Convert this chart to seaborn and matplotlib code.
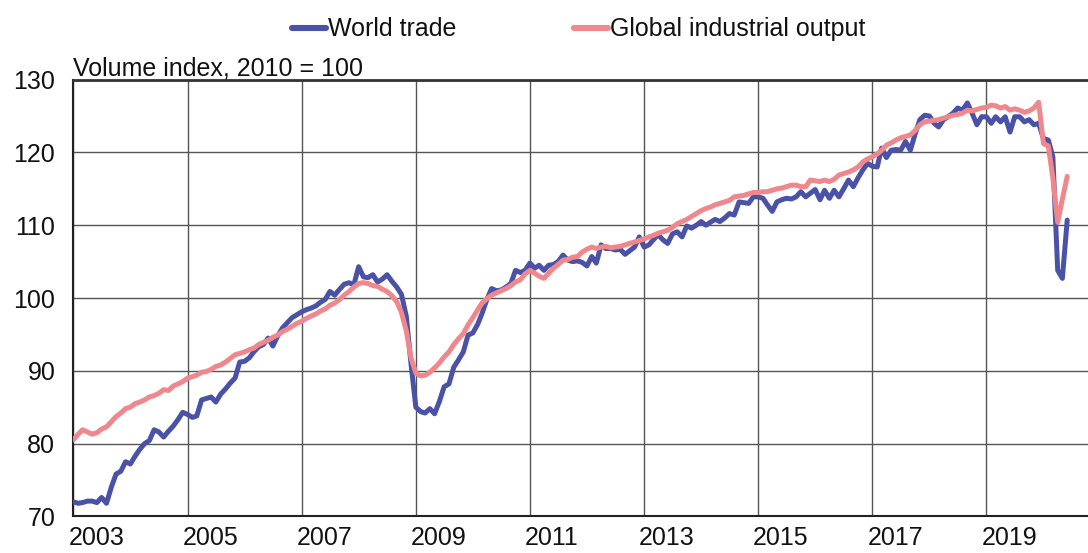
import matplotlib
matplotlib.use("Agg")
import matplotlib.pyplot as plt
import matplotlib.transforms as mtransforms
from matplotlib.lines import Line2D
import seaborn as sns
import pandas as pd

# ---- data (monthly, Jan 2003 - Jun 2020), volume index 2010 = 100 ----
start_month = "2003-01-01"
world_trade = [
    72.0, 71.8, 71.9, 72.1, 72.1, 71.9, 72.6, 71.8, 74.0, 75.8, 76.2, 77.5,   # 2003
    77.2, 78.3, 79.2, 80.0, 80.4, 81.9, 81.6, 80.9, 81.7, 82.4, 83.3, 84.3,   # 2004
    84.0, 83.6, 83.8, 86.0, 86.2, 86.4, 85.7, 86.8, 87.5, 88.3, 89.0, 91.2,   # 2005
    91.3, 91.8, 92.6, 93.3, 93.6, 94.5, 93.4, 94.8, 95.9, 96.6, 97.3, 97.7,   # 2006
    98.1, 98.4, 98.6, 98.9, 99.4, 99.8, 100.9, 100.4, 101.2, 101.9, 102.1, 101.8,  # 2007
    104.3, 102.9, 102.8, 103.2, 102.2, 102.6, 103.2, 102.3, 101.5, 100.5, 97.5, 91.0,  # 2008
    85.0, 84.4, 84.2, 84.8, 84.1, 85.8, 87.8, 88.2, 90.5, 91.5, 92.6, 94.9,   # 2009
    95.2, 96.4, 97.9, 99.8, 101.3, 101.0, 101.1, 101.5, 102.0, 103.8, 103.5, 103.8,  # 2010
    104.8, 104.1, 104.5, 103.8, 104.5, 104.6, 105.0, 105.9, 105.2, 105.0, 105.1, 104.9,  # 2011
    104.4, 105.7, 104.8, 107.3, 106.8, 106.8, 106.6, 106.7, 106.0, 106.5, 107.0, 108.4,  # 2012
    107.0, 107.3, 108.0, 108.7, 108.0, 107.5, 108.8, 109.1, 108.4, 109.9, 109.6, 110.0,  # 2013
    110.5, 110.0, 110.4, 110.8, 110.5, 111.0, 111.6, 111.4, 113.2, 113.1, 113.0, 113.9,  # 2014
    113.9, 113.7, 112.8, 111.9, 113.2, 113.5, 113.7, 113.6, 113.9, 114.6, 113.9, 114.4,  # 2015
    114.9, 113.5, 114.8, 113.7, 114.8, 113.9, 115.0, 116.2, 115.3, 116.5, 117.6, 118.5,  # 2016
    118.1, 118.0, 120.6, 119.3, 120.3, 120.4, 120.3, 121.5, 120.3, 122.5, 124.5, 125.1,  # 2017
    125.0, 124.0, 123.5, 124.5, 124.9, 125.4, 126.1, 125.8, 126.8, 125.4, 123.8, 124.9,  # 2018
    124.9, 124.0, 124.9, 124.2, 124.9, 122.8, 124.9, 124.9, 124.2, 124.5, 123.8, 124.0,  # 2019
    121.9, 121.7, 119.4, 103.8, 102.7, 110.7,                                      # 2020
]
industrial_output = [
    80.5, 81.3, 81.9, 81.6, 81.3, 81.5, 82.0, 82.3, 83.0, 83.7, 84.2, 84.8,   # 2003
    85.0, 85.5, 85.7, 86.0, 86.4, 86.6, 86.9, 87.4, 87.3, 87.9, 88.2, 88.5,   # 2004
    89.0, 89.2, 89.4, 89.8, 89.9, 90.2, 90.6, 90.8, 91.2, 91.7, 92.2, 92.4,   # 2005
    92.6, 92.9, 93.1, 93.6, 93.9, 94.2, 94.6, 94.9, 95.4, 95.7, 96.1, 96.5,   # 2006
    96.8, 97.2, 97.5, 97.8, 98.2, 98.5, 99.0, 99.3, 99.8, 100.4, 100.9, 101.5,  # 2007
    102.0, 102.1, 102.0, 101.7, 101.6, 101.2, 100.9, 100.3, 99.5, 98.0, 95.5, 91.8,  # 2008
    89.7, 89.3, 89.4, 89.8, 90.4, 91.1, 91.9, 92.6, 93.6, 94.4, 95.1, 96.3,   # 2009
    97.3, 98.4, 99.3, 99.9, 100.4, 100.7, 101.0, 101.3, 101.7, 102.2, 102.5, 103.3,  # 2010
    103.8, 103.4, 103.0, 102.7, 103.4, 104.1, 104.6, 105.2, 105.3, 105.6, 105.7, 106.3,  # 2011
    106.7, 107.0, 106.8, 107.0, 107.1, 106.9, 107.0, 107.1, 107.3, 107.5, 107.7, 107.9,  # 2012
    108.1, 108.4, 108.6, 108.9, 109.1, 109.3, 109.7, 110.2, 110.5, 110.8, 111.2, 111.6,  # 2013
    112.0, 112.3, 112.5, 112.8, 113.0, 113.2, 113.4, 113.9, 114.0, 114.1, 114.3, 114.5,  # 2014
    114.5, 114.6, 114.6, 114.8, 115.0, 115.1, 115.3, 115.5, 115.5, 115.3, 115.3, 116.2,  # 2015
    116.1, 116.0, 116.2, 116.0, 116.3, 116.9, 117.1, 117.3, 117.6, 118.0, 118.7, 119.1,  # 2016
    119.4, 119.8, 120.3, 121.0, 121.3, 121.7, 122.0, 122.2, 122.4, 123.0, 123.8, 124.2,  # 2017
    124.3, 124.4, 124.5, 124.7, 124.9, 125.1, 125.2, 125.4, 125.8, 125.7, 125.9, 126.1,  # 2018
    126.2, 126.5, 126.4, 126.1, 126.3, 125.8, 126.0, 125.8, 125.5, 125.7, 126.1, 126.9,  # 2019
    121.2, 120.9, 116.5, 110.4, 113.6, 116.7,                                      # 2020
]
series_names = ["World trade", "Global industrial output"]
series_colors = ["#4a52a8", "#f0878d"]
y_ticks = [70, 80, 90, 100, 110, 120, 130]
x_label_years = [2003, 2005, 2007, 2009, 2011, 2013, 2015, 2017, 2019]
minor_tick_years = [2004, 2006, 2008, 2010, 2012, 2014, 2016, 2018, 2020]
unit_text = "Volume index, 2010 = 100"

# ---- build table ----
months = pd.date_range(start_month, periods=len(world_trade), freq="MS")
df = pd.concat([
    pd.DataFrame({"date": months, "value": world_trade, "series": series_names[0]}),
    pd.DataFrame({"date": months[:len(industrial_output)], "value": industrial_output,
                  "series": series_names[1]}),
])

sns.set_style("white")
plt.rcParams["font.family"] = ["Liberation Sans", "DejaVu Sans"]

fig = plt.figure(figsize=(10.88, 5.53), dpi=100)
ax = fig.add_axes([0.0674, 0.0662, 0.9326, 0.7898])

sns.lineplot(data=df, x="date", y="value", hue="series", hue_order=series_names,
             palette=dict(zip(series_names, series_colors)), linewidth=3.6,
             ax=ax, legend=False, zorder=3)

ax.set_xlim(pd.Timestamp("2003-01-01"), pd.Timestamp("2020-10-12"))
ax.set_ylim(70, 130)
ax.set_xlabel("")
ax.set_ylabel("")

ax.set_yticks(y_ticks)
ax.tick_params(axis="y", length=0, pad=13, labelsize=18, colors="#111111")

major = [pd.Timestamp(f"{y}-01-01") for y in x_label_years]
minor = [pd.Timestamp(f"{y}-01-01") for y in minor_tick_years]
ax.set_xticks(major)
ax.set_xticklabels([str(y) for y in x_label_years])
ax.set_xticks(minor, minor=True)
ax.tick_params(axis="x", which="major", length=0, pad=7, labelsize=18, colors="#111111")
ax.tick_params(axis="x", which="minor", length=4, width=1, direction="in", color="#555555")
offset = mtransforms.ScaledTranslation(-5 / 100, 0, fig.dpi_scale_trans)
for lab in ax.get_xticklabels():
    lab.set_horizontalalignment("left")
    lab.set_transform(lab.get_transform() + offset)

ax.grid(True, which="major", axis="both", color="#555555", linewidth=1.0)
ax.set_axisbelow(True)

for side in ["left", "bottom"]:
    ax.spines[side].set_color("#222222")
    ax.spines[side].set_linewidth(1.5)
ax.spines["top"].set_color("#333333")
ax.spines["top"].set_linewidth(2.0)
ax.spines["right"].set_visible(False)

ax.text(0.0, 0.997, unit_text, transform=ax.transAxes, ha="left", va="bottom",
        fontsize=18, color="#111111")

handles = [Line2D([0], [0], color=c, linewidth=4.4) for c in series_colors]
fig.legend(handles, series_names, loc="center", bbox_to_anchor=(0.532, 0.947),
           ncol=2, frameon=False, fontsize=18, handlelength=1.35,
           handletextpad=0.1, columnspacing=4.7, labelcolor="#111111")

fig.savefig("out.png", dpi=100)
